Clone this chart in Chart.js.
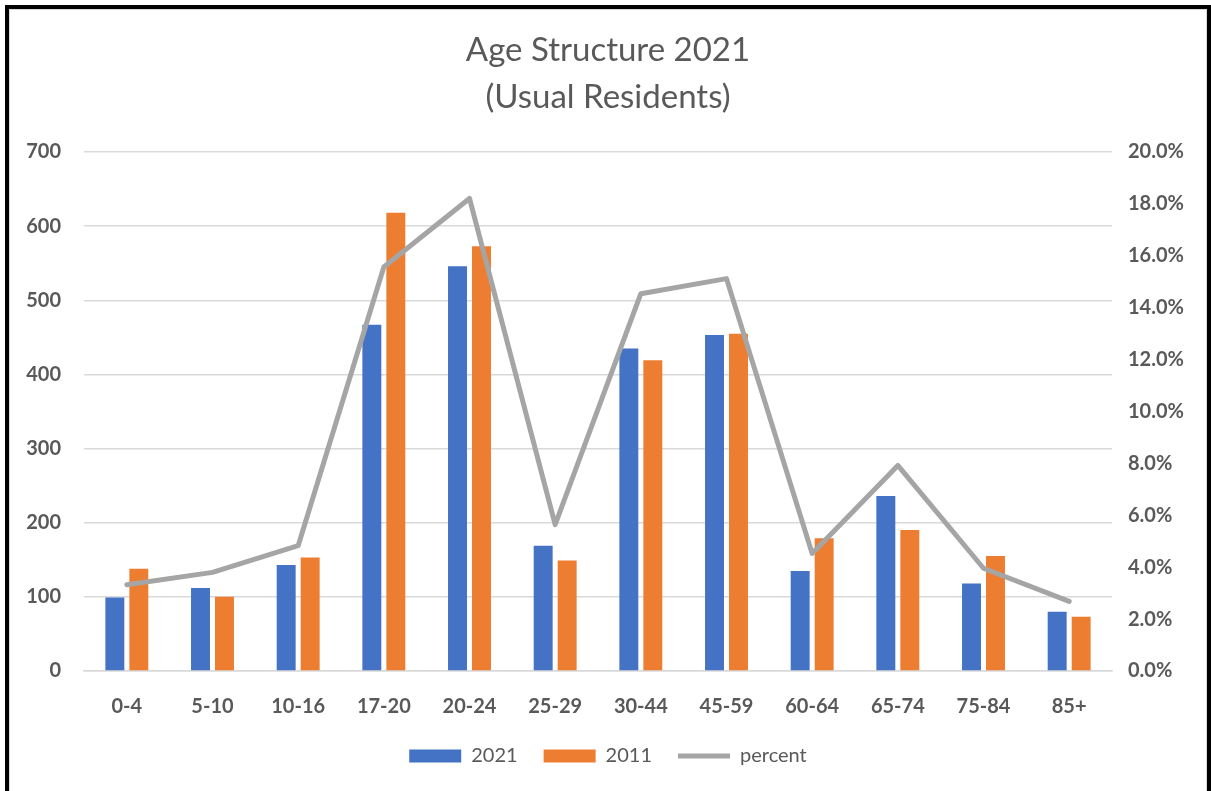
<!DOCTYPE html>
<html>
<head>
<meta charset="utf-8">
<script src="https://cdn.jsdelivr.net/npm/chart.js@4.4.1/dist/chart.umd.min.js"></script>
<style>
  html, body { margin: 0; padding: 0; background: #fff; overflow: hidden; }
  #frame {
    position: absolute; left: 5px; top: 5px;
    width: 1206px; height: 820px; box-sizing: border-box;
    border: 4px solid #000; background: #fff;
  }
  #inner {
    position: absolute; left: 0; top: 0; right: 0; bottom: 0;
    border: 1px solid #d9d9d9;
  }
  #box { position: absolute; left: 0; top: 0; width: 1196px; height: 781px; }
</style>
</head>
<body>
<div id="frame"><div id="inner"><div id="box"><canvas id="ageChart"></canvas></div></div></div>
<script>
// Дані
const ageGroups = ['0-4', '5-10', '10-16', '17-20', '20-24', '25-29', '30-44', '45-59', '60-64', '65-74', '75-84', '85+'];
const residents2021 = [99, 112, 143, 467, 546, 169, 435, 453, 135, 236, 118, 80];
const residents2011 = [138, 100, 153, 618, 573, 149, 419, 455, 179, 190, 155, 73];
const percent2021 = [3.32, 3.80, 4.83, 15.57, 18.21, 5.64, 14.54, 15.12, 4.53, 7.92, 3.96, 2.68];

const leftTicks = [0, 100, 200, 300, 400, 500, 600, 700];
const rightTicks = [0, 2, 4, 6, 8, 10, 12, 14, 16, 18, 20];

const textColor = '#595959';
const gridColor = '#d9d9d9';
const fontFamily = 'Lato, "Open Sans", sans-serif';

new Chart(document.getElementById('ageChart'), {
    type: 'bar',
    data: {
        labels: ageGroups,
        datasets: [
            {
                label: '2021',
                data: residents2021,
                backgroundColor: '#4472c4',
                pointStyle: 'rect',
                yAxisID: 'y',
                order: 1
            },
            {
                label: '2011',
                data: residents2011,
                backgroundColor: '#ed7d31',
                pointStyle: 'rect',
                yAxisID: 'y',
                order: 1
            },
            {
                type: 'line',
                label: 'percent',
                data: percent2021,
                borderColor: '#a5a5a5',
                backgroundColor: '#a5a5a5',
                borderWidth: 5,
                borderCapStyle: 'round',
                borderJoinStyle: 'round',
                pointRadius: 0,
                pointHoverRadius: 0,
                pointStyle: 'line',
                tension: 0,
                yAxisID: 'y1',
                order: 0
            }
        ]
    },
    options: {
        responsive: true,
        maintainAspectRatio: false,
        animation: false,
        layout: { padding: { left: 0, right: 0, top: 0, bottom: 15 } },
        datasets: {
            bar: { categoryPercentage: 0.56, barPercentage: 0.79 }
        },
        plugins: {
            title: {
                display: true,
                text: ['Age Structure 2021', '(Usual Residents)'],
                color: textColor,
                font: { family: fontFamily, size: 33, weight: 'normal', lineHeight: 1.424 },
                padding: { top: 16.5, bottom: 31.5 }
            },
            legend: {
                position: 'bottom',
                labels: {
                    usePointStyle: true,
                    pointStyleWidth: 52,
                    boxHeight: 13,
                    padding: 26,
                    color: textColor,
                    font: { family: fontFamily, size: 20 },
                    sort: (a, b) => a.datasetIndex - b.datasetIndex
                }
            },
            tooltip: { enabled: false }
        },
        scales: {
            x: {
                grid: { display: false, drawTicks: false },
                border: { display: true, color: gridColor, width: 1.5 },
                ticks: {
                    color: textColor,
                    padding: 24,
                    font: { family: fontFamily, size: 20, weight: 'bold' }
                },
                afterFit: s => { s.height = 49; }
            },
            y: {
                position: 'left',
                min: 0,
                max: 700,
                afterBuildTicks: s => { s.ticks = leftTicks.map(v => ({ value: v })); },
                grid: { color: gridColor, lineWidth: 1.5, drawTicks: false },
                border: { display: false },
                ticks: {
                    color: textColor,
                    padding: 23,
                    font: { family: fontFamily, size: 20, weight: 'bold' }
                },
                afterFit: s => { s.width = 74; }
            },
            y1: {
                position: 'right',
                min: 0,
                max: 20,
                afterBuildTicks: s => { s.ticks = rightTicks.map(v => ({ value: v })); },
                grid: { display: false, drawTicks: false },
                border: { display: false },
                ticks: {
                    color: textColor,
                    padding: 16,
                    font: { family: fontFamily, size: 20, weight: 'bold' },
                    callback: v => Number(v).toFixed(1) + '%'
                },
                afterFit: s => { s.width = 94; }
            }
        }
    }
});
</script>
</body>
</html>
